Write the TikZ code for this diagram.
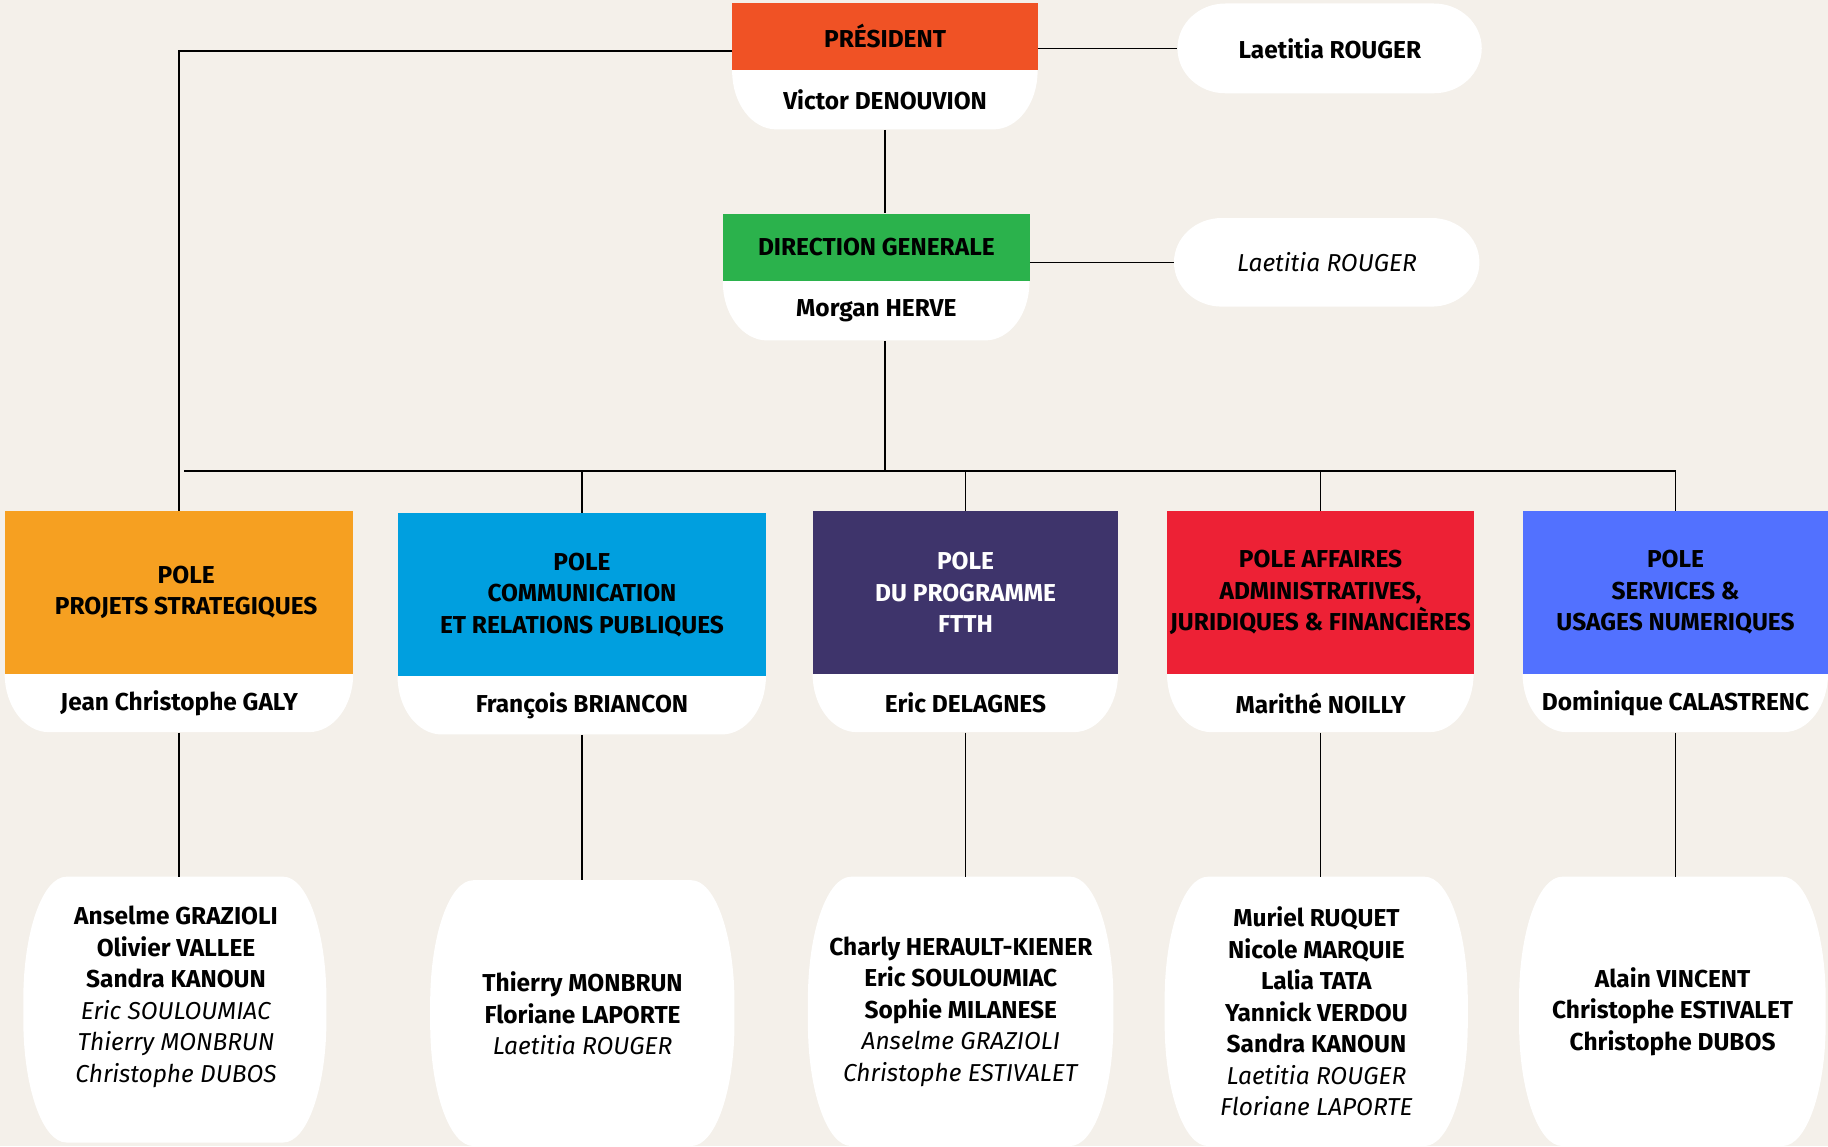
\documentclass[tikz,border=0pt]{standalone}
\usepackage{fontspec}
\setmainfont{Fira Sans}
\definecolor{bgc}{HTML}{F4F0EA}
\definecolor{presc}{HTML}{F05225}
\definecolor{dgc}{HTML}{2BB24C}
\definecolor{pac}{HTML}{F6A021}
\definecolor{pbc}{HTML}{009FDF}
\definecolor{pcc}{HTML}{3E346B}
\definecolor{pdc}{HTML}{ED2135}
\definecolor{pec}{HTML}{5271FF}
% white lower part: x1 x2 ytop ybot rx ry
\newcommand\lowerpart[6]{%
 \fill[white] (#1,#3) -- (#2,#3) -- (#2,#4-#6) .. controls (#2,#4-0.448*#6) and (#2-0.448*#5,#4) .. (#2-#5,#4)
   -- (#1+#5,#4) .. controls (#1+0.448*#5,#4) and (#1,#4-0.448*#6) .. (#1,#4-#6) -- cycle;}
% rounded all-corners shape: x1 x2 ytop ybot rx ry
\newcommand\barrel[6]{%
 \fill[white] (#1+#5,#3) -- (#2-#5,#3) .. controls (#2-0.448*#5,#3) and (#2,#3+0.448*#6) .. (#2,#3+#6)
   -- (#2,#4-#6) .. controls (#2,#4-0.448*#6) and (#2-0.448*#5,#4) .. (#2-#5,#4)
   -- (#1+#5,#4) .. controls (#1+0.448*#5,#4) and (#1,#4-0.448*#6) .. (#1,#4-#6)
   -- (#1,#3+#6) .. controls (#1,#3+0.448*#6) and (#1+0.448*#5,#3) .. cycle;}
\begin{document}
\begin{tikzpicture}[x=1pt,y=-1pt,
  txt/.style={font=\fontsize{21}{27}\selectfont, align=center, text=black, inner sep=0pt},
  hdr/.style={rectangle, inner sep=0pt, anchor=north west, font=\bfseries\fontsize{21}{27}\selectfont, align=center, text=black},
  wpart/.style={rectangle, inner sep=0pt, anchor=north west, font=\bfseries\fontsize{21}{27}\selectfont, align=center, text=black},
  box/.style={rectangle, inner sep=0pt, anchor=north west},
  conn/.style={draw=black, line width=1.4pt}]
\fill[bgc] (0,0) rectangle (1568,983);
\useasboundingbox (0,0) rectangle (1568,983);

% President
\lowerpart{628}{890}{60}{111}{38}{50}
\node[hdr, fill=presc, minimum width=262pt, minimum height=58pt] (pres) at (628,2) {PRÉSIDENT};
\node[wpart, minimum width=262pt, minimum height=51pt] (presw) at (628,60) {Victor DENOUVION};
% Laetitia 1
\barrel{1010}{1271}{3}{80}{41}{38.5}
\node[box, minimum width=261pt, minimum height=77pt, font=\bfseries\fontsize{21}{27}\selectfont] (lra) at (1010,3) {Laetitia ROUGER};

% Direction generale
\lowerpart{620}{883}{241}{292}{38}{50}
\node[hdr, fill=dgc, minimum width=263pt, minimum height=58pt] (dg) at (620,183) {DIRECTION GENERALE};
\node[wpart, minimum width=263pt, minimum height=51pt] (dgw) at (620,241) {Morgan HERVE};
% Laetitia 2
\barrel{1007}{1269}{187}{263}{41}{38}
\node[box, minimum width=262pt, minimum height=76pt, font=\itshape\fontsize{21}{27}\selectfont] (lrb) at (1007,187) {Laetitia ROUGER};

% Poles
\lowerpart{4}{303}{578}{628}{38}{50}
\node[hdr, fill=pac, minimum width=299pt, minimum height=140pt] (pa) at (4,438) {\hspace*{12pt}POLE\\\hspace*{12pt}PROJETS STRATEGIQUES};
\node[wpart, minimum width=299pt, minimum height=50pt] (paw) at (4,578) {Jean Christophe GALY};

\lowerpart{341}{657}{580}{630}{38}{50}
\node[hdr, fill=pbc, minimum width=316pt, minimum height=140pt] (pb) at (341,440) {POLE\\COMMUNICATION\\ET RELATIONS PUBLIQUES};
\node[wpart, minimum width=316pt, minimum height=50pt] (pbw) at (341,580) {François BRIANCON};

\lowerpart{697}{959}{578}{628}{38}{50}
\node[hdr, fill=pcc, text=white, minimum width=262pt, minimum height=140pt] (pc) at (697,438) {POLE\\DU PROGRAMME\\FTTH};
\node[wpart, minimum width=262pt, minimum height=50pt] (pcw) at (697,578) {Eric DELAGNES};

\lowerpart{1001}{1264}{578}{628}{38}{50}
\node[hdr, fill=pdc, minimum width=263pt, minimum height=140pt] (pd) at (1001,438) {POLE AFFAIRES\\ADMINISTRATIVES,\\JURIDIQUES \& FINANCIÈRES};
\node[wpart, minimum width=263pt, minimum height=50pt] (pdw) at (1001,578) {Marithé NOILLY};

\lowerpart{1306}{1568}{578}{628}{38}{50}
\node[hdr, fill=pec, minimum width=262pt, minimum height=140pt] (pe) at (1306,438) {POLE\\SERVICES \&\\USAGES NUMERIQUES};
\node[wpart, minimum width=262pt, minimum height=50pt] (pew) at (1306,578) {Dominique CALASTRENC};

% Member boxes
\barrel{20}{280}{752}{980}{37}{105}
\node[box, minimum width=260pt, minimum height=228pt] (ma) at (20,752) {};
\node[txt] (mat) at (151,855) {\textbf{Anselme GRAZIOLI}\\\textbf{Olivier VALLEE}\\\textbf{Sandra KANOUN}\\\textit{Eric SOULOUMIAC}\\\textit{Thierry MONBRUN}\\\textit{Christophe DUBOS}};

\barrel{369}{630}{755}{983}{37}{105}
\node[box, minimum width=261pt, minimum height=228pt] (mb) at (369,755) {};
\node[txt] (mbt) at (mb.center) {\textbf{Thierry MONBRUN}\\\textbf{Floriane LAPORTE}\\\textit{Laetitia ROUGER}};

\barrel{693}{955}{752}{983}{37}{105}
\node[box, minimum width=262pt, minimum height=231pt] (mc) at (693,752) {};
\node[txt] (mct) at (mc.center) {\textbf{Charly HERAULT-KIENER}\\\textbf{Eric SOULOUMIAC}\\\textbf{Sophie MILANESE}\\\textit{Anselme GRAZIOLI}\\\textit{Christophe ESTIVALET}};

\barrel{999}{1259}{752}{983}{37}{105}
\node[box, minimum width=260pt, minimum height=231pt] (md) at (999,752) {};
\node[txt] (mdt) at (md.center) {\textbf{Muriel RUQUET}\\\textbf{Nicole MARQUIE}\\\textbf{Lalia TATA}\\\textbf{Yannick VERDOU}\\\textbf{Sandra KANOUN}\\\textit{Laetitia ROUGER}\\\textit{Floriane LAPORTE}};

\barrel{1303}{1566}{752}{983}{37}{105}
\node[box, minimum width=263pt, minimum height=231pt] (me) at (1303,752) {};
\node[txt] (met) at (me.center) {\textbf{Alain VINCENT}\\\textbf{Christophe ESTIVALET}\\\textbf{Christophe DUBOS}};

% Connectors
\coordinate (busL) at (158,404);
\draw[conn] (pres.east |- lra.west) -- (lra.west);
\draw[conn] (dg.east |- lrb.west) -- (lrb.west);
\draw[conn] (pres.west |- 0,44) -| (pa.north);
\draw[conn] (presw.south) -- (presw.south |- dg.north);
\draw[conn] (presw.south |- dgw.south) -- (presw.south |- busL);
\draw[conn] (busL) -- (busL -| pe.north);
\draw[conn] (pb.north) -- (pb.north |- busL);
\draw[conn] (pc.north) -- (pc.north |- busL);
\draw[conn] (pd.north) -- (pd.north |- busL);
\draw[conn] (pe.north) -- (pe.north |- busL);
\draw[conn] (paw.south) -- (paw.south |- ma.north);
\draw[conn] (pbw.south) -- (pbw.south |- mb.north);
\draw[conn] (pcw.south) -- (pcw.south |- mc.north);
\draw[conn] (pdw.south) -- (pdw.south |- md.north);
\draw[conn] (pew.south) -- (pew.south |- me.north);
\end{tikzpicture}
\end{document}
